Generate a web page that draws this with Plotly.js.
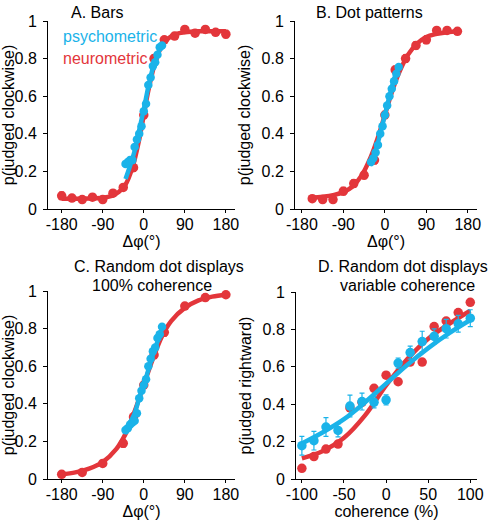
<!DOCTYPE html>
<html>
<head>
<meta charset="utf-8">
<script src="https://cdn.plot.ly/plotly-3.0.1.min.js"></script>
<style>html,body{margin:0;padding:0;background:#fff;}#chart{width:494px;height:524px;}</style>
</head>
<body>
<div id="chart"></div>
<script>
// ---------- Data ----------
// Panel A: Bars
const aNeuroX = [-180,-157.5,-135,-112.5,-90,-67.5,-45,-22.5,0,22.5,45,67.5,90,112.5,135,157.5,180];
const aNeuroY = [0.07,0.058,0.05,0.063,0.05,0.084,0.115,0.22,0.5,0.8,0.9,0.92,0.955,0.935,0.955,0.94,0.93];
const aNeuroErr = [0.02,0.015,0.015,0.015,0.015,0.015,0.015,0.02,0.02,0.02,0.015,0.015,0.015,0.015,0.015,0.015,0.02];
const aPsychoX = [-40,-35,-30,-25,-20,-15,-10,-5,0,5,10,15,20,25,30,35,40];
const aPsychoY = [0.24,0.25,0.26,0.26,0.33,0.37,0.40,0.44,0.52,0.56,0.66,0.70,0.76,0.78,0.82,0.86,0.87];
const aNeuroFitX = [-180,-150,-120,-90,-70,-55,-40,-25,-10,0,10,25,40,55,70,90,120,150,180];
const aNeuroFitY = [0.055,0.055,0.056,0.06,0.07,0.09,0.13,0.22,0.37,0.5,0.63,0.78,0.87,0.91,0.93,0.94,0.945,0.945,0.945];
const aPsychoFitX = [-40,-30,-20,-10,0,10,20,30,40];
const aPsychoFitY = [0.16,0.23,0.31,0.42,0.53,0.65,0.75,0.82,0.88];

// Panel B: Dot patterns
const bNeuroX = [-157.5,-135,-112.5,-90,-67.5,-45,-22.5,0,22.5,45,67.5,90,112.5,135,157.5];
const bNeuroY = [0.055,0.05,0.05,0.095,0.135,0.18,0.26,0.5,0.74,0.8,0.87,0.9,0.95,0.95,0.945];
const bNeuroErr = [0.015,0.015,0.015,0.02,0.02,0.02,0.02,0.02,0.02,0.02,0.02,0.02,0.015,0.015,0.015];
const bPsychoX = [-30,-25,-20,-15,-10,-5,0,5,10,15,20,25,30];
const bPsychoY = [0.25,0.27,0.30,0.34,0.40,0.44,0.50,0.55,0.60,0.64,0.68,0.72,0.755];
const bNeuroFitX = [-160,-135,-110,-90,-70,-50,-30,-15,0,15,30,50,70,90,110,135,160];
const bNeuroFitY = [0.06,0.065,0.075,0.09,0.12,0.18,0.28,0.38,0.5,0.62,0.72,0.82,0.88,0.915,0.93,0.94,0.945];
const bPsychoFitX = [-32,-20,-10,0,10,20,30];
const bPsychoFitY = [0.23,0.31,0.40,0.5,0.60,0.69,0.76];

// Panel C: Random dot displays, 100% coherence
const cNeuroX = [-180,-135,-90,-45,-22.5,0,22.5,45,90,135,180];
const cNeuroY = [0.025,0.035,0.083,0.19,0.33,0.5,0.66,0.78,0.92,0.965,0.98];
const cNeuroErr = [0.01,0.01,0.015,0.02,0.02,0.02,0.02,0.02,0.015,0.01,0.01];
const cPsychoX = [-40,-35,-30,-25,-20,-15,-10,-5,0,5,10,15,20,25,30,35,40];
const cPsychoY = [0.26,0.27,0.29,0.30,0.31,0.35,0.43,0.47,0.50,0.53,0.60,0.64,0.68,0.70,0.75,0.77,0.81];
const cNeuroFitX = [-180,-150,-120,-90,-60,-40,-20,0,20,40,60,90,120,150,180];
const cNeuroFitY = [0.025,0.035,0.055,0.09,0.16,0.24,0.36,0.5,0.64,0.76,0.84,0.91,0.95,0.97,0.98];
const cPsychoFitX = [-42,-30,-20,-10,0,10,20,30,40];
const cPsychoFitY = [0.24,0.30,0.35,0.43,0.5,0.58,0.66,0.73,0.80];

// Panel D: Random dot displays, variable coherence
const dNeuroX = [-100,-85.7,-71.4,-57.1,-42.9,-28.6,-14.3,0,14.3,28.6,42.9,57.1,71.4,85.7,100];
const dNeuroY = [0.057,0.12,0.16,0.187,0.38,0.41,0.485,0.555,0.52,0.625,0.625,0.815,0.845,0.89,0.945];
const dPsychoX = [-100,-85.7,-71.4,-57.1,-42.9,-28.6,-14.3,0,14.3,28.6,42.9,57.1,71.4,85.7,100];
const dPsychoY = [0.178,0.205,0.278,0.26,0.39,0.414,0.41,0.423,0.62,0.676,0.735,0.763,0.804,0.83,0.86];
const dPsychoErr = [0.05,0.05,0.05,0.035,0.058,0.045,0.03,0.027,0.027,0.035,0.055,0.04,0.05,0.045,0.045];
const dNeuroFitX = [-100,-75,-50,-25,0,25,50,75,100];
const dNeuroFitY = [0.11,0.15,0.22,0.34,0.5,0.64,0.75,0.83,0.9];
const dPsychoFitX = [-100,-75,-50,-25,0,25,50,75,100];
const dPsychoFitY = [0.19,0.25,0.32,0.41,0.51,0.61,0.70,0.78,0.85];

const yTickVals = [0,0.2,0.4,0.6,0.8,1];
const yTickText = ['0','0.2','0.4','0.6','0.8','1'];
const angTickVals = [-180,-90,0,90,180];
const angTickText = ['-180','-90','0','90','180'];
const cohTickVals = [-100,-50,0,50,100];
const cohTickText = ['-100','-50','0','50','100'];

// ---------- Styling ----------
const RED = '#e3363b';
const BLUE = '#1ab3e9';
const FONT = 'Arial, "Liberation Sans", Helvetica, sans-serif';

function fit(x, y, color, xa, ya) {
  return {x: x, y: y, xaxis: xa, yaxis: ya, type: 'scatter', mode: 'lines',
    line: {color: color, width: 4.5, shape: 'spline'}, hoverinfo: 'skip', showlegend: false, cliponaxis: false};
}
function pts(x, y, err, color, xa, ya, size) {
  const t = {x: x, y: y, xaxis: xa, yaxis: ya, type: 'scatter', mode: 'markers',
    marker: {color: color, size: size}, showlegend: false, cliponaxis: false};
  if (err) t.error_y = {type: 'data', array: err, visible: true, color: color, thickness: 1.2, width: 2.5};
  return t;
}

const data = [
  fit(aNeuroFitX, aNeuroFitY, RED, 'x', 'y'),
  pts(aNeuroX, aNeuroY, aNeuroErr, RED, 'x', 'y', 9.5),
  fit(aPsychoFitX, aPsychoFitY, BLUE, 'x', 'y'),
  pts(aPsychoX, aPsychoY, null, BLUE, 'x', 'y', 8.5),

  fit(bNeuroFitX, bNeuroFitY, RED, 'x2', 'y2'),
  pts(bNeuroX, bNeuroY, bNeuroErr, RED, 'x2', 'y2', 9.5),
  fit(bPsychoFitX, bPsychoFitY, BLUE, 'x2', 'y2'),
  pts(bPsychoX, bPsychoY, null, BLUE, 'x2', 'y2', 8.5),

  fit(cNeuroFitX, cNeuroFitY, RED, 'x3', 'y3'),
  pts(cNeuroX, cNeuroY, cNeuroErr, RED, 'x3', 'y3', 9.5),
  fit(cPsychoFitX, cPsychoFitY, BLUE, 'x3', 'y3'),
  pts(cPsychoX, cPsychoY, null, BLUE, 'x3', 'y3', 8.5),

  fit(dNeuroFitX, dNeuroFitY, RED, 'x4', 'y4'),
  pts(dNeuroX, dNeuroY, null, RED, 'x4', 'y4', 9.5),
  fit(dPsychoFitX, dPsychoFitY, BLUE, 'x4', 'y4'),
  pts(dPsychoX, dPsychoY, dPsychoErr, BLUE, 'x4', 'y4', 9.5)
];

const W = 494, H = 524;
const px = v => v / W;
const py = v => 1 - v / H;

function xax(domain, range, tv, tt, title, anchor) {
  return {domain: domain, range: range, anchor: anchor, tickvals: tv, ticktext: tt,
    showline: true, linecolor: '#000', linewidth: 1, ticks: 'outside', ticklen: 3, tickcolor: '#000',
    ticklabelstandoff: -2,
    showgrid: false, zeroline: false, fixedrange: true,
    tickfont: {family: FONT, size: 16, color: '#000'},
    title: {text: title, font: {family: FONT, size: 16, color: '#000'}, standoff: 0}};
}
function yax(domain, title, anchor) {
  return {domain: domain, range: [0, 1], anchor: anchor, tickvals: yTickVals, ticktext: yTickText,
    showline: true, linecolor: '#000', linewidth: 1, ticks: 'outside', ticklen: 4, tickcolor: '#000',
    ticklabelstandoff: 3,
    showgrid: false, zeroline: false, fixedrange: true,
    tickfont: {family: FONT, size: 16, color: '#000'},
    title: {text: title, font: {family: FONT, size: 16, color: '#000'}, standoff: 6}};
}

function note(text, x, y, color, xanchor) {
  return {text: text, x: px(x), y: py(y), xref: 'paper', yref: 'paper', showarrow: false,
    xanchor: xanchor || 'center', yanchor: 'middle', borderpad: 0,
    font: {family: FONT, size: 16, color: color || '#000'}};
}

const layout = {
  width: W, height: H,
  margin: {l: 0, r: 0, t: 0, b: 0},
  paper_bgcolor: '#fff', plot_bgcolor: '#fff',
  showlegend: false,
  xaxis:  xax([px(48), px(235)], [-210, 200], angTickVals, angTickText, 'Δφ(°)', 'y'),
  yaxis:  yax([py(209), py(21)], 'p(judged clockwise)', 'x'),
  xaxis2: xax([px(295), px(477)], [-195, 200], angTickVals, angTickText, 'Δφ(°)', 'y2'),
  yaxis2: yax([py(209), py(21)], 'p(judged clockwise)', 'x2'),
  xaxis3: xax([px(48), px(235)], [-210, 200], angTickVals, angTickText, 'Δφ(°)', 'y3'),
  yaxis3: yax([py(479), py(291)], 'p(judged clockwise)', 'x3'),
  xaxis4: xax([px(296), px(477)], [-107, 108], cohTickVals, cohTickText, 'coherence (%)', 'y4'),
  yaxis4: yax([py(479), py(292)], 'p(judged rightward)', 'x4'),
  annotations: [
    note('A. Bars', 97, 12),
    note('B. Dot patterns', 369, 12),
    note('C. Random dot displays', 159, 266),
    note('100% coherence', 152, 285),
    note('D. Random dot displays', 403, 266),
    note('variable coherence', 407, 285),
    note('psychometric', 62, 37, BLUE, 'left'),
    note('neurometric', 62, 58, RED, 'left')
  ]
};

Plotly.newPlot('chart', data, layout, {displayModeBar: false, staticPlot: true});
</script>
</body>
</html>
